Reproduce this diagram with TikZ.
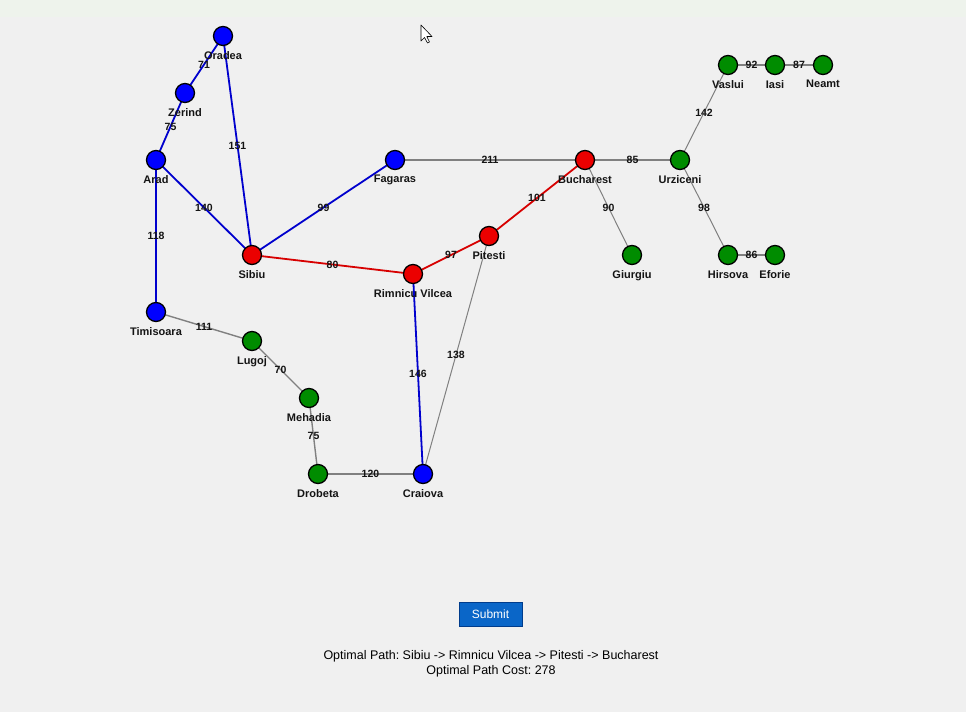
\documentclass[tikz,border=0pt]{standalone}
\usepackage{fontspec}
\setmainfont{Liberation Sans}
\frenchspacing
\definecolor{bg}{RGB}{240,240,240}
\definecolor{topbar}{RGB}{238,243,236}
\definecolor{nblue}{RGB}{0,0,255}
\definecolor{nred}{RGB}{235,0,0}
\definecolor{ngreen}{RGB}{0,140,0}
\definecolor{eblue}{RGB}{0,0,205}
\definecolor{ered}{RGB}{215,0,0}
\definecolor{egray}{RGB}{128,128,128}
\definecolor{btn}{RGB}{10,102,200}
\definecolor{btnb}{RGB}{0,60,140}
\begin{document}
\begin{tikzpicture}[x=1pt,y=-1pt,
  city/.style={circle,draw=black,line width=1.3pt,minimum size=19pt,inner sep=0pt,
    label={[font=\fontsize{11}{12}\selectfont\bfseries,text=black!92,inner sep=0pt,label distance=5pt]below:#1}},
  cblue/.style={fill=nblue},
  cred/.style={fill=nred},
  cgreen/.style={fill=ngreen},
  bedge/.style={draw=eblue,line width=1.8pt},
  redge/.style={draw=ered,line width=1.8pt},
  gedge/.style={draw=egray,line width=1.4pt},
  elab/.style={font=\fontsize{10.5}{12}\selectfont\bfseries,text=black!92,inner sep=0pt},
  info/.style={font=\fontsize{12.5}{14}\selectfont,text=black,inner sep=0pt}]
\fill[bg] (0,0) rectangle (966,712);
\fill[topbar] (0,0) rectangle (966,17);
\useasboundingbox (0,0) rectangle (966,712);

% node positions
\coordinate (Oradea) at (223,36);
\coordinate (Zerind) at (185,93);
\coordinate (Arad) at (156,160);
\coordinate (Sibiu) at (252,255);
\coordinate (Timisoara) at (156,312);
\coordinate (Lugoj) at (252,341);
\coordinate (Mehadia) at (309,398);
\coordinate (Drobeta) at (318,474);
\coordinate (Craiova) at (423,474);
\coordinate (Rimnicu) at (413,274);
\coordinate (Pitesti) at (489,236);
\coordinate (Fagaras) at (395,160);
\coordinate (Bucharest) at (585,160);
\coordinate (Giurgiu) at (632,255);
\coordinate (Urziceni) at (680,160);
\coordinate (Vaslui) at (728,65);
\coordinate (Iasi) at (775,65);
\coordinate (Neamt) at (823,65);
\coordinate (Hirsova) at (728,255);
\coordinate (Eforie) at (775,255);

% edges
\draw[gedge] (Fagaras) -- (Bucharest);
\draw[gedge] (Bucharest) -- (Urziceni);
\draw[gedge,line width=1pt] (Bucharest) -- (Giurgiu);
\draw[gedge,line width=1pt] (Urziceni) -- (Vaslui);
\draw[gedge,line width=1pt] (Urziceni) -- (Hirsova);
\draw[gedge] (Vaslui) -- (Iasi);
\draw[gedge] (Iasi) -- (Neamt);
\draw[gedge] (Hirsova) -- (Eforie);
\draw[gedge] (Timisoara) -- (Lugoj);
\draw[gedge] (Lugoj) -- (Mehadia);
\draw[gedge] (Mehadia) -- (Drobeta);
\draw[gedge] (Drobeta) -- (Craiova);
\draw[gedge,line width=1pt] (Pitesti) -- (Craiova);
\draw[bedge] (Oradea) -- (Zerind);
\draw[bedge] (Zerind) -- (Arad);
\draw[bedge] (Arad) -- (Sibiu);
\draw[bedge] (Oradea) -- (Sibiu);
\draw[bedge] (Arad) -- (Timisoara);
\draw[bedge] (Sibiu) -- (Fagaras);
\draw[bedge] (Rimnicu) -- (Craiova);
\draw[redge] (Sibiu) -- (Rimnicu);
\draw[redge] (Rimnicu) -- (Pitesti);
\draw[redge] (Pitesti) -- (Bucharest);

% city nodes
\node[city=Oradea,cblue] (nOradea) at (Oradea) {};
\node[city=Zerind,cblue] (nZerind) at (Zerind) {};
\node[city=Arad,cblue] (nArad) at (Arad) {};
\node[city=Sibiu,cred] (nSibiu) at (Sibiu) {};
\node[city=Timisoara,cblue] (nTimisoara) at (Timisoara) {};
\node[city=Lugoj,cgreen] (nLugoj) at (Lugoj) {};
\node[city=Mehadia,cgreen] (nMehadia) at (Mehadia) {};
\node[city=Drobeta,cgreen] (nDrobeta) at (Drobeta) {};
\node[city=Craiova,cblue] (nCraiova) at (Craiova) {};
\node[city={Rimnicu Vilcea},cred] (nRimnicu) at (Rimnicu) {};
\node[city=Pitesti,cred] (nPitesti) at (Pitesti) {};
\node[city=Fagaras,cblue] (nFagaras) at (Fagaras) {};
\node[city=Bucharest,cred] (nBucharest) at (Bucharest) {};
\node[city=Giurgiu,cgreen] (nGiurgiu) at (Giurgiu) {};
\node[city=Urziceni,cgreen] (nUrziceni) at (Urziceni) {};
\node[city=Vaslui,cgreen] (nVaslui) at (Vaslui) {};
\node[city=Iasi,cgreen] (nIasi) at (Iasi) {};
\node[city=Neamt,cgreen] (nNeamt) at (Neamt) {};
\node[city=Hirsova,cgreen] (nHirsova) at (Hirsova) {};
\node[city=Eforie,cgreen] (nEforie) at (Eforie) {};

% edge labels
\path (Oradea) -- node[elab] {71} (Zerind);
\path (Zerind) -- node[elab] {75} (Arad);
\path (Arad) -- node[elab] {140} (Sibiu);
\path (Oradea) -- node[elab] {151} (Sibiu);
\path (Arad) -- node[elab] {118} (Timisoara);
\path (Sibiu) -- node[elab] {99} (Fagaras);
\path (Sibiu) -- node[elab] {80} (Rimnicu);
\path (Rimnicu) -- node[elab] {97} (Pitesti);
\path (Pitesti) -- node[elab] {101} (Bucharest);
\path (Rimnicu) -- node[elab] {146} (Craiova);
\path (Pitesti) -- node[elab] {138} (Craiova);
\path (Fagaras) -- node[elab] {211} (Bucharest);
\path (Bucharest) -- node[elab] {85} (Urziceni);
\path (Bucharest) -- node[elab] {90} (Giurgiu);
\path (Urziceni) -- node[elab] {142} (Vaslui);
\path (Urziceni) -- node[elab] {98} (Hirsova);
\path (Vaslui) -- node[elab] {92} (Iasi);
\path (Iasi) -- node[elab] {87} (Neamt);
\path (Hirsova) -- node[elab] {86} (Eforie);
\path (Timisoara) -- node[elab] {111} (Lugoj);
\path (Lugoj) -- node[elab] {70} (Mehadia);
\path (Mehadia) -- node[elab] {75} (Drobeta);
\path (Drobeta) -- node[elab] {120} (Craiova);

% submit button and result text
\node[draw=btnb,fill=btn,line width=1pt,minimum width=63pt,minimum height=24pt,inner sep=0pt,
  text=white,font=\fontsize{12}{13}\selectfont] (submit) at (490.5,614) {Submit};
\node[info] (path) at (491,656) {Optimal Path: Sibiu -> Rimnicu Vilcea -> Pitesti -> Bucharest};
\node[info] (cost) at (491,671) {Optimal Path Cost: 278};

% mouse cursor
\draw[fill=white,draw=black,line width=0.6pt,line join=round]
  (421,25) -- (421,41) -- (424.5,37.5) -- (427.5,43) -- (429.5,42) -- (426.8,36.5) -- (432,36.5) -- cycle;
\end{tikzpicture}
\end{document}
